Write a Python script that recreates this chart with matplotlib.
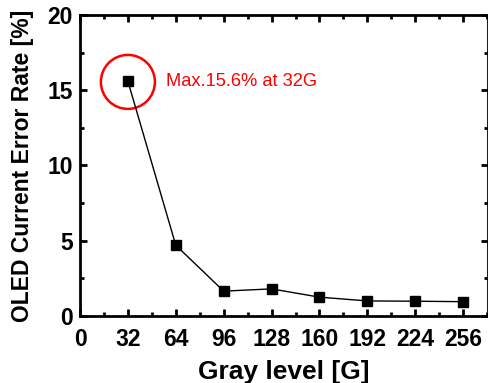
import numpy as np
import matplotlib.pyplot as plt
from matplotlib.patches import Ellipse
from matplotlib.ticker import MultipleLocator

plt.rcParams['font.family'] = ['Liberation Sans', 'DejaVu Sans']

# data
gray = [32, 64, 96, 128, 160, 192, 224, 256]
err = [15.6, 4.7, 1.65, 1.8, 1.25, 1.0, 0.98, 0.95]
xticks = [0, 32, 64, 96, 128, 160, 192, 224, 256]

fig = plt.figure(figsize=(4.89, 3.83), dpi=100)
ax = fig.add_axes([0.1636, 0.175, 0.834, 0.786])

ax.plot(gray, err, color='black', lw=1, marker='s', ms=7.5)

ax.set_xlim(0, 272.5)
ax.set_ylim(0, 20)
ax.set_xticks(xticks)
ax.xaxis.set_minor_locator(MultipleLocator(16))
ax.set_yticks([0, 5, 10, 15, 20])
ax.yaxis.set_minor_locator(MultipleLocator(2.5))

ax.tick_params(which='both', direction='in', top=True, right=True, width=2)
ax.tick_params(which='major', length=5, labelsize=16.5)
ax.tick_params(axis='x', which='major', pad=9)
ax.tick_params(axis='y', which='major', pad=5)
ax.tick_params(which='minor', length=3)
for lab in ax.get_xticklabels() + ax.get_yticklabels():
    lab.set_fontweight('bold')
for s in ax.spines.values():
    s.set_linewidth(2)

ax.set_xlabel('Gray level [G]', fontsize=19, fontweight='bold', labelpad=6)
ax.set_ylabel('OLED Current Error Rate [%]', fontsize=16.5, fontweight='bold', labelpad=10)

# highlight the max point
r_px = 27
sx = 1.496
sy = 15.05
ax.add_patch(Ellipse((gray[0], err[0] - 0.05), 2 * r_px / sx, 2 * r_px / sy,
                     fill=False, edgecolor='red', lw=1.8))
ax.text(57.5, err[0], 'Max.15.6% at 32G', color='red', fontsize=13.2, va='center')

fig.savefig('out.png', dpi=100)
